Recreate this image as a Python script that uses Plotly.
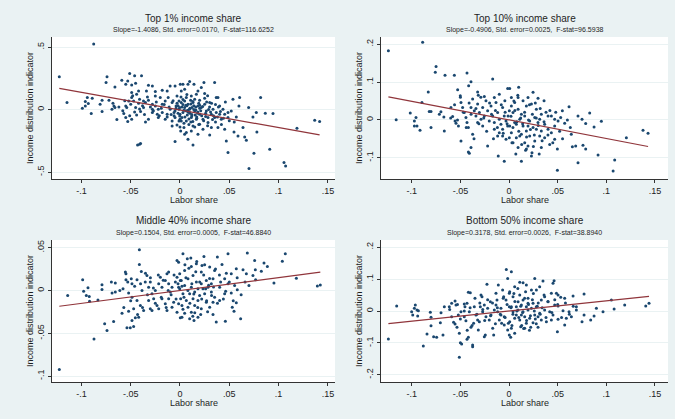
import plotly.graph_objects as go

# ---------------- data ----------------
titles = ["Top 1% income share", "Top 10% income share",
          "Middle 40% income share", "Bottom 50% income share"]
subtitles = ["Slope=-1.4086, Std. error=0.0170,  F-stat=116.6252",
             "Slope=-0.4906, Std. error=0.0025,  F-stat=96.5938",
             "Slope=0.1504, Std. error=0.0005,  F-stat=46.8840",
             "Slope=0.3178, Std. error=0.0026,  F-stat=38.8940"]
slopes = [-1.4086, -0.4906, 0.1504, 0.3178]
intercepts = [-0.004, 0.0, 0.0, 0.0]

xtick_vals = [-0.1, -0.05, 0, 0.05, 0.1, 0.15]
xtick_text = ["-.1", "-.05", "0", ".05", ".1", ".15"]
ytick_vals = [[-0.5, 0, 0.5], [-0.1, 0, 0.1, 0.2], [-0.1, -0.05, 0, 0.05], [-0.2, -0.1, 0, 0.1, 0.2]]
ytick_text = [["-.5", "0", ".5"], ["-.1", "0", ".1", ".2"], ["-.1", "-.05", "0", ".05"], ["-.2", "-.1", "0", ".1", ".2"]]

# Panel 1: Top 1%
x1 = [-0.0875, -0.1224, -0.1146, -0.074, -0.075, -0.051, -0.046, -0.039, -0.059, -0.053, -0.045, -0.049, -0.055,
      -0.066, -0.032, -0.028, -0.042, -0.034, -0.025, -0.018, -0.010, -0.005, 0.0003, -0.049, -0.044, -0.094, -0.089,
      -0.079, -0.072, -0.096, -0.093, -0.099, -0.096, -0.081, -0.067, -0.066, -0.079, -0.069, -0.090, -0.057, -0.055,
      -0.053, -0.049, -0.044, -0.040, -0.037, -0.035, -0.032, -0.028, -0.025, -0.022, -0.018, -0.015, -0.012, -0.008,
      -0.004, -0.001, 0.000, -0.005, -0.008, -0.013, -0.018, -0.023, -0.028, -0.032, -0.035, -0.041, -0.028, -0.037,
      -0.045, -0.050, -0.054, -0.047, -0.049, -0.041, -0.008, -0.003, 0.000, -0.005, -0.043, -0.041, -0.040, -0.052,
      -0.055, -0.025, -0.020, -0.013, -0.003, -0.001, -0.010, -0.006, -0.015, -0.022, -0.001, 0.000,
      0.0098, 0.0081, 0.0142, 0.0243, 0.0351, 0.003, 0.0013, 0.0047, 0.0182, 0.0216, 0.0166, 0.025, 0.0115, 0.0064,
      0.0368, 0.0385, 0.0537, 0.0605, 0.0818, 0.0301, 0.0402, 0.0598, 0.0696, 0.0436, 0.052, 0.0774, 0.0865, 0.0943,
      0.0571, 0.0487, 0.0419, 0.074, 0.0639, 0.078, 0.0548, 0.0588, 0.0656, 0.047, 0.0673, 0.1186, 0.1366, 0.1416,
      0.0487, 0.075, 0.091, 0.07, 0.1055, 0.1071, 0.0132, 0.0081, 0.0047, 0.0064, 0.0182, 0.0301, 0.0318, 0.0385,
      0.0453, 0.0233, 0.0199, 0.0132, 0.0013, -0.0003, 0.003, 0.0098, 0.0149, 0.0199, 0.0267, 0.0318, 0.0351, 0.0115,
      0.0064, 0.0166, 0.0233, 0.0284, 0.0081, 0.0132, 0.0182, 0.0216, 0.025, 0.0047, 0.0013, 0.0098, 0.0121, 0.0155,
      0.0074, 0.004, 0.0007, 0.0115, 0.0284, 0.0335, 0.0368, 0.0402, 0.0453, 0.0487, 0.0047, 0.0108, 0.0149, 0.0199,
      -0.0003, 0.002, 0.006, 0.01, 0.014, 0.018, 0.02, 0.022, 0.012, 0.008, 0.016, 0.026, 0.03, 0.003, 0.007, 0.011,
      0.017, 0.024, 0.027, 0.033, 0.004, 0.009, -0.002, -0.004, -0.006, -0.003, 0.013, 0.019, 0.036, 0.042, 0.028, 0.001,
      0.002, 0.004, 0.006, 0.008, 0.010, 0.012, 0.014, 0.016, 0.018, 0.020, 0.005, 0.009, 0.013, 0.017, 0.021, 0.023,
      0.026, 0.029, 0.031, 0.034, 0.038, 0.041, 0.044, 0.003, 0.007, 0.011, 0.015, 0.019, 0.025, 0.028, -0.002, -0.005,
      -0.007, -0.009, -0.011, -0.013, -0.016, -0.019, -0.021, -0.024, -0.027, -0.030, -0.033, -0.036, -0.038, -0.042,
      -0.046, -0.048, -0.051, -0.056, -0.058, -0.062, -0.064, -0.068, 0.032, 0.036, 0.039, 0.046, 0.05, 0.055]
y1 = [0.523, 0.261, 0.056, 0.261, 0.216, 0.288, 0.269, 0.269, 0.235, 0.229, 0.211, 0.197, 0.203,
      0.181, 0.195, 0.189, 0.149, 0.149, 0.144, 0.155, 0.189, 0.189, 0.203, 0.136, 0.123, 0.096, 0.091,
      0.075, 0.075, 0.064, 0.048, 0.011, 0.029, 0.043, 0.029, 0.016, -0.016, 0.003, -0.032, -0.032, -0.064,
      -0.096, -0.077, -0.043, -0.016, 0.069, 0.056, 0.075, 0.043, 0.029, 0.003, 0.043, 0.069, 0.096, 0.056,
      0.029, 0.003, -0.037, -0.064, -0.091, -0.037, -0.024, -0.037, -0.024, -0.077, -0.099, 0.005, 0.003, 0.016,
      0.016, 0.043, 0.016, 0.069, 0.096, 0.083, -0.131, -0.123, -0.139, -0.256, -0.283, -0.277, -0.272, 0.069,
      0.029, 0.109, 0.096, 0.149, 0.109, 0.069, 0.003, -0.024, -0.077, -0.064, -0.091, -0.077,
      0.224, 0.203, 0.203, 0.216, 0.216, 0.203, 0.149, 0.163, 0.149, 0.176, 0.123, 0.128, 0.109, 0.096,
      0.096, 0.096, 0.083, 0.096, 0.096, 0.056, 0.029, 0.029, 0.016, 0.003, -0.011, -0.024, -0.029, -0.032,
      -0.059, -0.064, -0.077, -0.059, -0.144, -0.179, -0.179, -0.211, -0.219, -0.251, -0.245, -0.149, -0.085, -0.096,
      -0.344, -0.349, -0.317, -0.472, -0.424, -0.451, -0.283, -0.237, -0.197, -0.184, -0.197, -0.203, -0.144, -0.144,
      -0.157, -0.157, -0.117, -0.131, -0.091, -0.051, -0.024, 0.003, -0.011, -0.037, -0.011, -0.037, -0.064, -0.064,
      -0.091, -0.077, -0.077, -0.104, 0.043, 0.056, 0.029, 0.016, 0.043, 0.016, 0.056, -0.024, 0.016, -0.043,
      -0.043, -0.144, -0.171, -0.171, -0.064, 0.003, -0.024, -0.037, -0.037, -0.024, 0.069, 0.075, 0.083, 0.075,
      0.016, -0.064, -0.01, -0.03, 0.03, -0.02, 0.01, -0.05, -0.05, -0.005, -0.003, -0.03, 0.02, 0.04, 0.03, 0.045,
      -0.06, -0.09, 0.06, -0.08, -0.11, -0.12, -0.03, 0.01, -0.05, 0.05, -0.095, 0.05, -0.1, -0.12, -0.13, 0.1,
      0.02, -0.005, 0.035, -0.02, 0.01, -0.04, 0.0, 0.02, -0.03, 0.035, -0.06, -0.075, 0.065, -0.07, -0.01, 0.025,
      -0.055, 0.0, -0.02, -0.05, -0.06, -0.015, -0.07, 0.08, 0.12, -0.1, -0.14, -0.12, 0.09, 0.11, 0.03, -0.01,
      0.07, -0.04, 0.02, -0.06, 0.04, 0.01, -0.05, 0.06, -0.01, 0.02, 0.1, -0.04, 0.03, 0.05,
      -0.02, 0.11, -0.05, 0.07, -0.01, 0.02, -0.08, 0.05, 0.05, 0.04, 0.02, 0.06, -0.09, -0.1]

# Panel 2: Top 10%
x2 = [-0.124, -0.0888, -0.075, -0.0758, -0.0658, -0.0562, -0.0432, -0.0391, -0.0415, -0.0168, -0.083, -0.0528,
      -0.0501, -0.0323, -0.0316, -0.0254, -0.0151, -0.01, -0.0014, -0.0895, -0.082, -0.0802, -0.1015, -0.0716, -0.07,
      -0.067, -0.116, -0.0956, -0.0973, -0.0973, -0.0946, -0.0915, -0.0802, -0.0665, -0.0597, -0.058, -0.0555,
      -0.0545, -0.0494, -0.0477, -0.046, -0.0443, -0.0432, -0.0391, -0.0374, -0.0357, -0.034, -0.0323, -0.0305,
      -0.0288, -0.0271, -0.0254, -0.0237, -0.022, -0.0203, -0.0185, -0.0168, -0.0151, -0.0134, -0.0117, -0.01,
      -0.0083, -0.0066, -0.0049, -0.0031, -0.0014, 0.0003, -0.0043, -0.01, -0.0117, -0.0066, -0.0031, 0.0003, -0.022,
      -0.0374, -0.0494, -0.0391, -0.0418, -0.0408, -0.0111, -0.0049, -0.052, -0.0418, -0.0271, -0.0151, -0.0066,
      -0.0323,
      0.0099, 0.0007, 0.0247, 0.0298, 0.036, 0.0195, 0.0144, 0.0093, 0.0024, 0.0058, 0.0178, 0.023, 0.0281, 0.0332,
      0.0401, 0.0435, 0.0548, 0.0617, 0.0531, 0.0572, 0.0709, 0.075, 0.0829, 0.0788, 0.0949, 0.0874, 0.064, 0.0651,
      0.0685, 0.076, 0.0788, 0.0497, 0.0418, 0.0469, 0.0915, 0.0709, 0.1086, 0.107, 0.0497, 0.1206, 0.1377, 0.1429,
      0.0127, 0.023, 0.0236, 0.0093, 0.0041, 0.0161, 0.0195, 0.0264, 0.0315, 0.0332, 0.0366, 0.0435, 0.0401, 0.0469,
      0.0366, 0.0298, 0.0247, 0.0178, 0.0127, 0.0075, 0.0024, 0.0007, 0.0058, 0.011, 0.0161, 0.0212, 0.0264, 0.0315,
      0.0041, 0.0093, 0.0127, 0.0075, 0.0144, 0.0195, 0.0024, -0.001, 0.0281, 0.0332, 0.0469, 0.0504, 0.0178, 0.011,
      0.0212,
      0.002, 0.004, 0.006, 0.008, 0.01, 0.012, 0.014, 0.016, 0.018, 0.02, 0.022, 0.024, 0.026, 0.028, 0.03, 0.032,
      0.034, 0.036, 0.038, 0.04, 0.005, 0.009, 0.013, 0.017, 0.021, 0.025, 0.027, 0.031, 0.042, 0.045, -0.002, -0.004,
      -0.006, -0.008, -0.012, -0.014, -0.016, -0.018, -0.02, -0.023, -0.026, -0.029, -0.031, -0.034, -0.036, -0.039,
      -0.041, -0.044, -0.047, -0.05, -0.053, -0.056, -0.06, 0.048, 0.052, 0.055, 0.06, 0.063, 0.003, 0.007]
y2 = [0.183, 0.205, 0.141, 0.126, 0.118, 0.118, 0.124, 0.101, 0.090, 0.108, 0.074, 0.080,
      0.064, 0.074, 0.065, 0.062, 0.0593, 0.068, 0.083, 0.046, 0.022, 0.022, 0.018, 0.015, 0.0213,
      0.008, 0.0005, 0.0062, -0.0026, -0.016, -0.016, -0.027, -0.020, -0.029, 0.033, 0.009, -0.0026,
      -0.009, 0.046, 0.033, 0.0195, 0.0062, -0.007, 0.033, 0.055, 0.024, 0.0106, 0.042, 0.0195,
      0.0018, 0.033, 0.0106, 0.0504, 0.024, -0.0026, 0.037, 0.0106, -0.007, 0.046, 0.0195, 0.0018,
      -0.0115, 0.033, 0.0106, -0.0026, -0.016, 0.024, 0.0504, -0.0336, -0.0424, -0.0424, -0.051, -0.047, -0.069,
      -0.038, -0.0557, -0.073, -0.085, -0.088, -0.095, -0.109, -0.016, -0.020, -0.016, -0.0247, -0.0247,
      -0.007,
      0.086, 0.083, 0.073, 0.057, 0.0504, 0.0593, 0.0504, 0.0593, 0.0593, 0.046, 0.037, 0.042, 0.0283, 0.015,
      0.0106, 0.0106, 0.024, 0.0345, 0.0062, -0.009, 0.0106, 0.0018, 0.018, -0.0097, -0.0035, -0.0185, -0.038, -0.071,
      -0.069, -0.067, -0.077, -0.077, -0.065, -0.051, -0.0928, -0.113, -0.106, -0.135, -0.133, -0.047, -0.027, -0.035,
      -0.109, -0.095, -0.087, -0.073, -0.060, -0.060, -0.069, -0.0557, -0.0424, -0.073, -0.047, -0.0336, -0.0247, -0.016,
      -0.0115, -0.007, -0.020, -0.029, -0.038, -0.047, -0.0336, -0.016, -0.007, 0.0018, 0.0106, -0.0026, 0.0062, 0.0018,
      0.0195, 0.0283, 0.015, -0.0115, -0.016, -0.016, 0.037, 0.0106, -0.0247, -0.029, 0.0018, -0.0026, -0.077, -0.0424,
      -0.0424,
      0.01, -0.02, 0.025, -0.005, -0.03, 0.005, -0.01, 0.02, -0.045, 0.0, -0.025, 0.015, -0.04, 0.005, -0.015, 0.03,
      -0.055, -0.005, 0.02, -0.04, 0.05, 0.065, -0.065, -0.08, 0.04, -0.07, 0.045, -0.09, 0.025, -0.06, -0.01, 0.02,
      -0.035, 0.04, -0.02, 0.025, -0.05, 0.015, 0.045, -0.03, 0.005, 0.06, -0.01, 0.03, -0.05, 0.015,
      0.045, -0.02, 0.02, 0.06, 0.0, 0.04, 0.005, 0.02, -0.03, -0.05, 0.0, -0.02, -0.06, -0.09]

# Panel 3: Middle 40%
x3 = [-0.0412, -0.1224, -0.0872, -0.1139, -0.0987, -0.0933, -0.0977, -0.095, -0.092, -0.0917, -0.0832, -0.0791,
      -0.0791, -0.0696, -0.0656, -0.0689, -0.0656, -0.0764, -0.074, -0.0673, -0.0588, -0.0578, -0.0548, -0.0494,
      -0.0548, -0.0554, -0.0412, -0.0436, -0.0487, -0.0521, -0.0487, -0.0436, -0.0392, -0.0385, -0.0352, -0.0335,
      -0.0318, -0.0301, -0.0284, -0.025, -0.0216, -0.0199, -0.0183, -0.0149, -0.0132, -0.0115, -0.0098, -0.0081,
      -0.0047, -0.003, -0.0014, 0.0003, -0.003, -0.0014, -0.0115, -0.0521, -0.047, -0.0453, -0.0487, -0.047, -0.0538,
      -0.0504, -0.0419, -0.0402, -0.0369, -0.0318, -0.0301, -0.0267, -0.0233, -0.0183, -0.0149, -0.0115, -0.0081,
      -0.0064, -0.003, 0.0003, -0.0014, -0.0284, -0.0216, -0.0132,
      0.003, 0.0074, 0.0243, 0.0379, 0.0487, 0.0683, 0.1068, 0.0426, 0.0757, 0.0852, 0.0886, 0.1038, 0.0571, 0.0639,
      0.0764, 0.0825, 0.0673, 0.074, 0.0767, 0.118, 0.0953, 0.0699, 0.1393, 0.1423, 0.052, 0.0453, 0.0412, 0.0554,
      0.0581, 0.052, 0.0453, 0.0402, 0.0318, 0.0335, 0.0351, 0.0301, 0.0223, 0.0166, 0.0216, 0.0115, 0.0047,
      -0.0003, 0.0013, 0.0081, 0.0132, 0.0166, 0.0216, 0.0267, 0.0284, 0.0233, 0.0182, 0.0115, 0.0047, -0.0003,
      0.003, 0.0098, 0.0149, 0.0199, 0.025, 0.0318, 0.0351, 0.0402, 0.0335, 0.0267, 0.0182, 0.0132, 0.0064, 0.0007,
      0.002, 0.0081, 0.0149, 0.0216, 0.0301, 0.0335, 0.0115, 0.0047, 0.002, 0.0098, 0.0142, 0.0182, 0.0368, 0.046,
      0.0615, 0.053, 0.0548, 0.0571, 0.0463, 0.0487,
      0.002, 0.004, 0.006, 0.008, 0.01, 0.012, 0.014, 0.016, 0.018, 0.02, 0.022, 0.024, 0.026, 0.028, 0.03, 0.032,
      0.034, 0.036, 0.038, 0.04, 0.005, 0.009, 0.013, 0.017, 0.021, 0.025, 0.027, 0.029, 0.044, 0.047, -0.002, -0.004,
      -0.006, -0.009, -0.012, -0.014, -0.017, -0.019, -0.022, -0.025, -0.027, -0.03, -0.033, -0.035, -0.038, -0.04,
      -0.043, -0.046, -0.05, -0.053, -0.057, -0.061, 0.05, 0.054, 0.058, 0.062, 0.066, 0.003, 0.011, 0.015]
y3 = [0.0476, -0.0924, -0.0566, -0.0059, 0.0125, 0.0031, -0.0008, -0.0059, -0.007, -0.0125, -0.011, 0.0067,
      0.0012, 0.0098, 0.0086, -0.0031, -0.0019, -0.039, -0.0468, -0.0363, -0.0265, 0.002, 0.0125, 0.0137,
      0.0195, 0.0215, 0.0304, 0.0125, 0.0078, -0.0031, -0.0078, -0.0117, 0.0222, 0.0, 0.0098, 0.0176,
      0.0039, 0.0098, -0.0039, 0.0, 0.0078, 0.0156, 0.0039, 0.0117, 0.0195, 0.0078, -0.0019, 0.0039,
      0.0098, 0.0156, 0.0039, 0.0117, 0.035, 0.033, 0.0215, -0.0242, -0.0215, -0.032, -0.0351, -0.0421, -0.0437,
      -0.0437, -0.0312, -0.0176, -0.0234, -0.0117, -0.0215, -0.0098, -0.0176, -0.0098, -0.0156, -0.0098, -0.0195,
      -0.0137, -0.0254, -0.032, -0.0156, -0.0234, -0.0215, -0.0234,
      0.0429, 0.0371, 0.0398, 0.039, 0.0429, 0.0437, 0.0429, 0.0304, 0.0351, 0.032, 0.0281, 0.0343, 0.0254, 0.0242,
      0.0242, 0.0226, 0.0195, 0.0176, 0.0125, 0.0144, 0.0086, 0.0059, 0.0051, 0.0063, 0.0195, 0.0137, 0.0098, 0.0059,
      0.0008, -0.0031, -0.0039, 0.0039, 0.0078, 0.0137, 0.0234, 0.0273, 0.0293, 0.0312, 0.0215, 0.0281, 0.0234,
      0.0195, 0.0117, 0.0137, 0.0176, 0.0098, 0.0078, 0.0117, 0.0039, 0.002, 0.002, 0.0039, 0.0059, 0.002,
      -0.0039, -0.0039, -0.0019, -0.0059, -0.0039, -0.0019, -0.0078, -0.0117, -0.0137, -0.0137, -0.0117, -0.0098, -0.0117, -0.0098,
      -0.0176, -0.0195, -0.0176, -0.0215, -0.0195, -0.0281, -0.0254, -0.0265, -0.0312, -0.0332, -0.0351, -0.0312, -0.037, -0.0359,
      -0.0332, -0.0195, -0.0242, -0.0144, -0.0008, 0.0078,
      0.005, -0.008, 0.015, 0.0, -0.015, 0.008, -0.004, 0.022, -0.02, 0.01, -0.01, 0.018, 0.002, -0.025, 0.014, -0.006,
      0.004, 0.025, -0.015, 0.018, 0.03, 0.026, -0.03, 0.034, -0.028, 0.03, -0.012, 0.006, -0.01, 0.02, 0.008, -0.01,
      0.018, -0.005, 0.0, -0.02, 0.012, -0.008, 0.018, -0.015, 0.003, 0.015, -0.005, 0.02, -0.02, 0.008,
      -0.028, 0.005, -0.012, 0.01, -0.02, 0.0, 0.01, -0.012, 0.015, -0.005, 0.01, -0.022, 0.038, -0.026]

# Panel 4: Bottom 50%
x4 = [-0.124, -0.1155, -0.0963, -0.0973, -0.0946, -0.1001, -0.0932, -0.099, -0.0939, -0.0881, -0.0843, -0.0809,
      -0.0802, -0.0802, -0.0775, -0.0744, -0.0706, -0.0699, -0.0679, -0.0665, -0.0614, -0.059, -0.059, -0.0555,
      -0.0545, -0.0555, -0.0535, -0.0511, -0.05, -0.0487, -0.0511, -0.0453, -0.0432, -0.0418, -0.0398, -0.046,
      -0.0443, -0.0432, -0.0418, -0.0374, -0.0374, -0.0391, -0.0364, -0.034, -0.0323, -0.0316, -0.0288, -0.0278,
      -0.0295, -0.0271, -0.0254, -0.0244, -0.0227, -0.022, -0.0203, -0.0185, -0.0168, -0.0158, -0.0134, -0.0124,
      -0.0117, -0.011, -0.01, -0.0083, -0.0076, -0.0066, -0.0055, -0.0049, -0.0031, -0.0028, -0.0014, -0.0007,
      0.0003, 0.0003, 0.0003, -0.0014, -0.0049, -0.0151, -0.0237, -0.0305, -0.0408, -0.0494, -0.0521, -0.0254,
      -0.0192, -0.0134, -0.0083, -0.0357, -0.046,
      0.0024, 0.0264, 0.0463, 0.0452, 0.0349, 0.0315, 0.0058, 0.0144, 0.0178, 0.023, 0.0281, 0.0435, 0.0487, 0.0504,
      0.0658, 0.0771, 0.0531, 0.0572, 0.0366, 0.0401, 0.0007, 0.011, 0.0195, 0.0093, 0.0247, 0.0332, 0.0469, 0.0504,
      0.0555, 0.0617, 0.0692, 0.0692, 0.0898, 0.0966, 0.108, 0.1189, 0.1405, 0.1439, 0.1052, 0.0771, 0.0839, 0.0874,
      0.075, 0.0641, 0.0589, 0.0572, 0.0497, 0.0504, 0.0435, 0.0384, 0.0298, 0.0223, 0.0161, 0.012, 0.0058, 0.0017,
      0.0024, 0.0007, 0.0058, 0.011, 0.0161, 0.0212, 0.0264, 0.0315, 0.0366, 0.0418, 0.0195, 0.0144, 0.0093, 0.0041,
      0.0024, 0.0075, 0.0127, 0.0178, 0.023, 0.0281, 0.0144, 0.0195, 0.0041, 0.0075, 0.0127, 0.0178, 0.0247, 0.0332,
      0.0298, 0.0452,
      0.002, 0.004, 0.006, 0.008, 0.01, 0.012, 0.014, 0.016, 0.018, 0.02, 0.022, 0.024, 0.026, 0.028, 0.03, 0.032,
      0.034, 0.036, 0.038, 0.04, 0.005, 0.009, 0.013, 0.017, 0.021, 0.025, 0.027, 0.029, 0.044, 0.047, -0.002, -0.004,
      -0.006, -0.009, -0.012, -0.014, -0.017, -0.019, -0.022, -0.025, -0.027, -0.03, -0.033, -0.035, -0.038, -0.04,
      -0.043, -0.046, -0.05, -0.053, -0.057, -0.061, 0.05, 0.054, 0.058, 0.062, 0.066, 0.003, 0.011, 0.015]
y4 = [-0.0875, 0.0156, 0.0188, 0.0084, 0.0031, -0.0021, 0.001, -0.0125, -0.0156, -0.1094, -0.0719, -0.0042,
      -0.0198, -0.0458, -0.0802, -0.0823, -0.0364, -0.0052, -0.075, 0.0136, 0.0136, -0.0177, 0.024, 0.0313,
      0.0188, -0.0406, -0.051, -0.0698, -0.0989, -0.1031, -0.1448, 0.0136, 0.024, 0.0583, 0.0573, -0.0177,
      -0.0302, -0.0885, -0.0823, -0.1063, -0.1115, -0.051, -0.0385, -0.0125, -0.0281, -0.0594, 0.05, 0.0448,
      0.0136, -0.0021, -0.0802, -0.075, 0.0834, 0.0084, -0.0281, -0.0125, -0.0542, -0.075, 0.0552, 0.0344,
      -0.0021, 0.0813, -0.0281, 0.0084, -0.0385, 0.0656, 0.0448, -0.0177, 0.0344, 0.130, 0.102, -0.0385,
      0.0136, 0.0552, -0.075, -0.0594, -0.0437, 0.0031, -0.0177, -0.0333, -0.0021, -0.0021, -0.0125, 0.0188,
      0.0292, 0.0188, -0.0125, 0.0136, 0.0219,
      0.123, 0.102, 0.0948, 0.0865, 0.0938, 0.076, 0.076, 0.0886, 0.0813, 0.0656, 0.0656, 0.0552, 0.0552, 0.05,
      0.047, 0.0531, 0.0427, 0.0396, 0.0448, 0.0292, 0.0604, 0.05, 0.0396, 0.0292, 0.024, 0.0344, 0.0188, 0.0157,
      0.001, -0.0021, 0.0136, 0.0031, 0.0084, -0.0021, 0.0063, 0.0188, 0.0157, 0.024, 0.0344, -0.0125, -0.0281, -0.0156,
      -0.0333, -0.0177, -0.0229, -0.0437, -0.0646, -0.026, -0.0281, -0.0333, -0.0511, -0.0511, -0.0542, -0.049, -0.0698, -0.0823,
      -0.0542, -0.0333, -0.0229, -0.0281, -0.0177, -0.0229, -0.0125, -0.0073, 0.0031, -0.0021, 0.0031, -0.0021, 0.0031, -0.0021,
      0.0136, 0.0136, 0.0188, 0.0136, 0.0084, 0.0136, 0.0344, 0.024, 0.0448, -0.0125, -0.0125, -0.0385, -0.0364, -0.0281,
      -0.0177, -0.0125,
      0.01, -0.01, 0.03, 0.0, -0.02, 0.015, -0.005, 0.04, -0.03, 0.02, -0.015, 0.035, 0.0, -0.04, 0.025, -0.01,
      0.01, 0.05, -0.02, 0.03, 0.055, 0.07, -0.045, 0.06, -0.06, 0.055, -0.025, 0.015, -0.005, 0.035, 0.02, -0.02,
      0.04, -0.01, 0.01, -0.04, 0.025, -0.015, 0.035, -0.03, 0.005, 0.025, -0.01, 0.04, -0.045, 0.01,
      -0.06, 0.0, -0.025, 0.02, -0.035, 0.005, 0.02, -0.02, 0.025, -0.01, 0.015, -0.045, 0.09, -0.055]

xs = [x1, x2, x3, x4]
ys = [y1, y2, y3, y4]

# ---------------- layout geometry ----------------
W, H = 675, 419
BG = "#eaf2f3"
NAVY = "#1a476f"
MAROON = "#90353b"
FONT = "Liberation Sans, Arial, sans-serif"

# plot areas in pixels: (left, right, top, bottom)
boxes = [(52, 335, 37, 179), (381, 668, 37, 179), (52, 335, 240, 382), (381, 668, 240, 382)]
xranges = [[-0.1298, 0.1572], [-0.1316, 0.1634], [-0.1298, 0.1572], [-0.1316, 0.1634]]
yranges = [[-0.556, 0.58], [-0.156, 0.219], [-0.107, 0.059], [-0.222, 0.222]]

fig = go.Figure()
annotations = []
layout_axes = {}
for i in range(4):
    l, r, t, b = boxes[i]
    xd = [l / W, r / W]
    yd = [1 - b / H, 1 - t / H]
    xa = "x" if i == 0 else f"x{i+1}"
    ya = "y" if i == 0 else f"y{i+1}"
    xkey = "xaxis" if i == 0 else f"xaxis{i+1}"
    ykey = "yaxis" if i == 0 else f"yaxis{i+1}"

    fig.add_trace(go.Scatter(x=xs[i], y=ys[i], mode="markers", xaxis=xa, yaxis=ya,
                             marker=dict(size=3.0, color=NAVY, line=dict(width=0)),
                             showlegend=False, hoverinfo="skip"))
    xmin, xmax = min(xs[i]), max(xs[i])
    lx = [xmin, xmax]
    ly = [intercepts[i] + slopes[i] * v for v in lx]
    fig.add_trace(go.Scatter(x=lx, y=ly, mode="lines", xaxis=xa, yaxis=ya,
                             line=dict(color=MAROON, width=1.2),
                             showlegend=False, hoverinfo="skip"))

    layout_axes[xkey] = dict(domain=xd, range=xranges[i], anchor=ya,
                             tickvals=xtick_vals, ticktext=xtick_text,
                             ticks="outside", ticklen=3, tickcolor="#333333",
                             showline=True, linecolor="#333333", linewidth=1,
                             showgrid=False, zeroline=False, mirror=False,
                             tickfont=dict(family=FONT, size=9, color="#222222"))
    layout_axes[ykey] = dict(domain=yd, range=yranges[i], anchor=xa,
                             tickvals=ytick_vals[i], ticktext=ytick_text[i], tickangle=-90,
                             ticks="outside", ticklen=3, tickcolor="#333333",
                             showline=True, linecolor="#333333", linewidth=1,
                             showgrid=True, gridcolor=BG, gridwidth=1.2, zeroline=False,
                             tickfont=dict(family=FONT, size=9, color="#222222"))

    cx = (l + r) / 2 / W
    annotations.append(dict(text=titles[i], x=cx, y=1 - (t - 19) / H, xref="paper", yref="paper",
                            showarrow=False, xanchor="center", yanchor="middle",
                            font=dict(family=FONT, size=10, color="#1e1e1e")))
    annotations.append(dict(text=subtitles[i], x=cx, y=1 - (t - 7) / H, xref="paper", yref="paper",
                            showarrow=False, xanchor="center", yanchor="middle",
                            font=dict(family=FONT, size=7, color="#1e1e1e")))
    annotations.append(dict(text="Labor share", x=cx, y=1 - (b + 21) / H, xref="paper", yref="paper",
                            showarrow=False, xanchor="center", yanchor="middle",
                            font=dict(family=FONT, size=9, color="#1e1e1e")))
    annotations.append(dict(text="Income distribution indicator", x=(l - 22) / W, y=1 - (t + b) / 2 / H,
                            xref="paper", yref="paper", textangle=-90,
                            showarrow=False, xanchor="center", yanchor="middle",
                            font=dict(family=FONT, size=9, color="#1e1e1e")))

fig.update_layout(
    width=W, height=H,
    margin=dict(l=0, r=0, t=0, b=0),
    paper_bgcolor=BG,
    plot_bgcolor="white",
    annotations=annotations,
    **layout_axes,
)

fig.write_html("out.html")
